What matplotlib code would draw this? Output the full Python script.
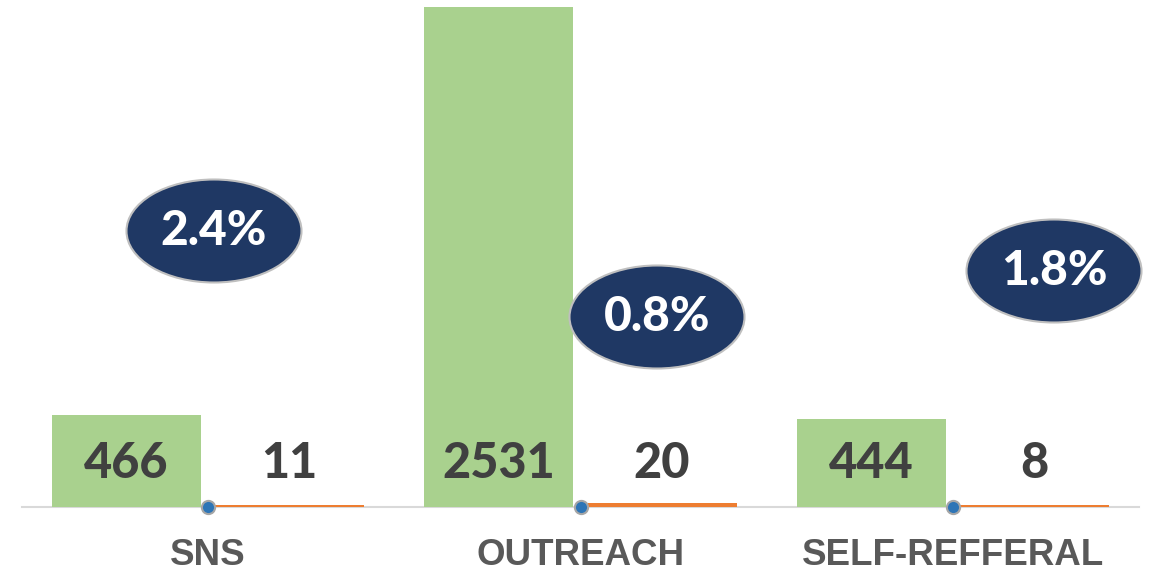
import matplotlib
matplotlib.use("Agg")
import matplotlib.pyplot as plt
from matplotlib.patches import Ellipse
from matplotlib import font_manager
import numpy as np

# ---- data ----
categories = ["SNS", "OUTREACH", "SELF-REFFERAL"]
green_values = [466, 2531, 444]
orange_values = [11, 20, 8]
pct_values = [2.4, 0.8, 1.8]
pct_labels = ["2.4%", "0.8%", "1.8%"]

# ---- layout / style ----
W, H = 1155, 579
GREEN = "#A9D18E"
ORANGE = "#ED7D31"
NAVY = "#1F3864"
DOT = "#2E75B6"
LABEL_C = "#404040"
CAT_C = "#595959"
BAR_W = 0.40
OFFSET = 0.219
ell_pos = [(214, 231), (657, 317), (1054, 271)]
ELL_W, ELL_H = 175, 103

lato_weights = {f.weight for f in font_manager.fontManager.ttflist if f.name == "Lato"}
NUM_WEIGHT = 900 if any(isinstance(w, int) and w >= 800 for w in lato_weights) else "bold"

fig = plt.figure(figsize=(W / 100, H / 100), dpi=100)
ax_bottom = (H - 507) / H
ax = fig.add_axes([0, ax_bottom, 1, 507 / H])

x = np.arange(len(categories))
ax.bar(x - OFFSET, green_values, width=BAR_W, color=GREEN, zorder=2)
ax.bar(x + OFFSET, orange_values, width=BAR_W, color=ORANGE, zorder=2)
ax.plot(x, [p / 100 for p in pct_values], linestyle="none", marker="o",
        markersize=9.5, markerfacecolor=DOT, markeredgecolor="#A6A6A6",
        markeredgewidth=1.5, zorder=5, clip_on=False)

ymax = 2531 * 507 / 500
ax.set_ylim(0, ymax)
ax.set_xlim(-208 / 372.5, (W - 208) / 372.5)

for s in ["top", "right", "left"]:
    ax.spines[s].set_visible(False)
ax.spines["bottom"].set_color("#D9D9D9")
ax.spines["bottom"].set_linewidth(1.5)
ax.spines["bottom"].set_bounds(-0.5, 2.5)
ax.spines["bottom"].set_zorder(1)
ax.set_yticks([])
ax.set_xticks(x)
ax.set_xticklabels(categories)
ax.tick_params(axis="x", length=0, pad=22)
for t in ax.get_xticklabels():
    t.set_fontfamily(["Liberation Sans Narrow", "Liberation Sans", "DejaVu Sans"])
    t.set_fontweight("bold")
    t.set_fontsize(26.5)
    t.set_color(CAT_C)

label_y = (507 - 463.5) / 500 * 2531
for i in range(len(categories)):
    ax.text(x[i] - OFFSET, label_y, str(green_values[i]), ha="center", va="center",
            fontsize=35, fontweight=NUM_WEIGHT, color=LABEL_C, family=["Lato", "DejaVu Sans"], zorder=4)
    ax.text(x[i] + OFFSET, label_y, str(orange_values[i]), ha="center", va="center",
            fontsize=35, fontweight=NUM_WEIGHT, color=LABEL_C, family=["Lato", "DejaVu Sans"], zorder=4)

for (px, py), lab in zip(ell_pos, pct_labels):
    fx, fy = px / W, 1 - py / H
    e = Ellipse((fx, fy), ELL_W / W, ELL_H / H, transform=fig.transFigure,
                facecolor=NAVY, edgecolor="#BFBFBF", linewidth=1.5, zorder=10)
    fig.patches.append(e)
    fig.text(fx, fy, lab, ha="center", va="center", fontsize=34.5, fontweight=NUM_WEIGHT,
             color="white", family=["Lato", "DejaVu Sans"], zorder=11)

fig.savefig("out.png", dpi=100)
